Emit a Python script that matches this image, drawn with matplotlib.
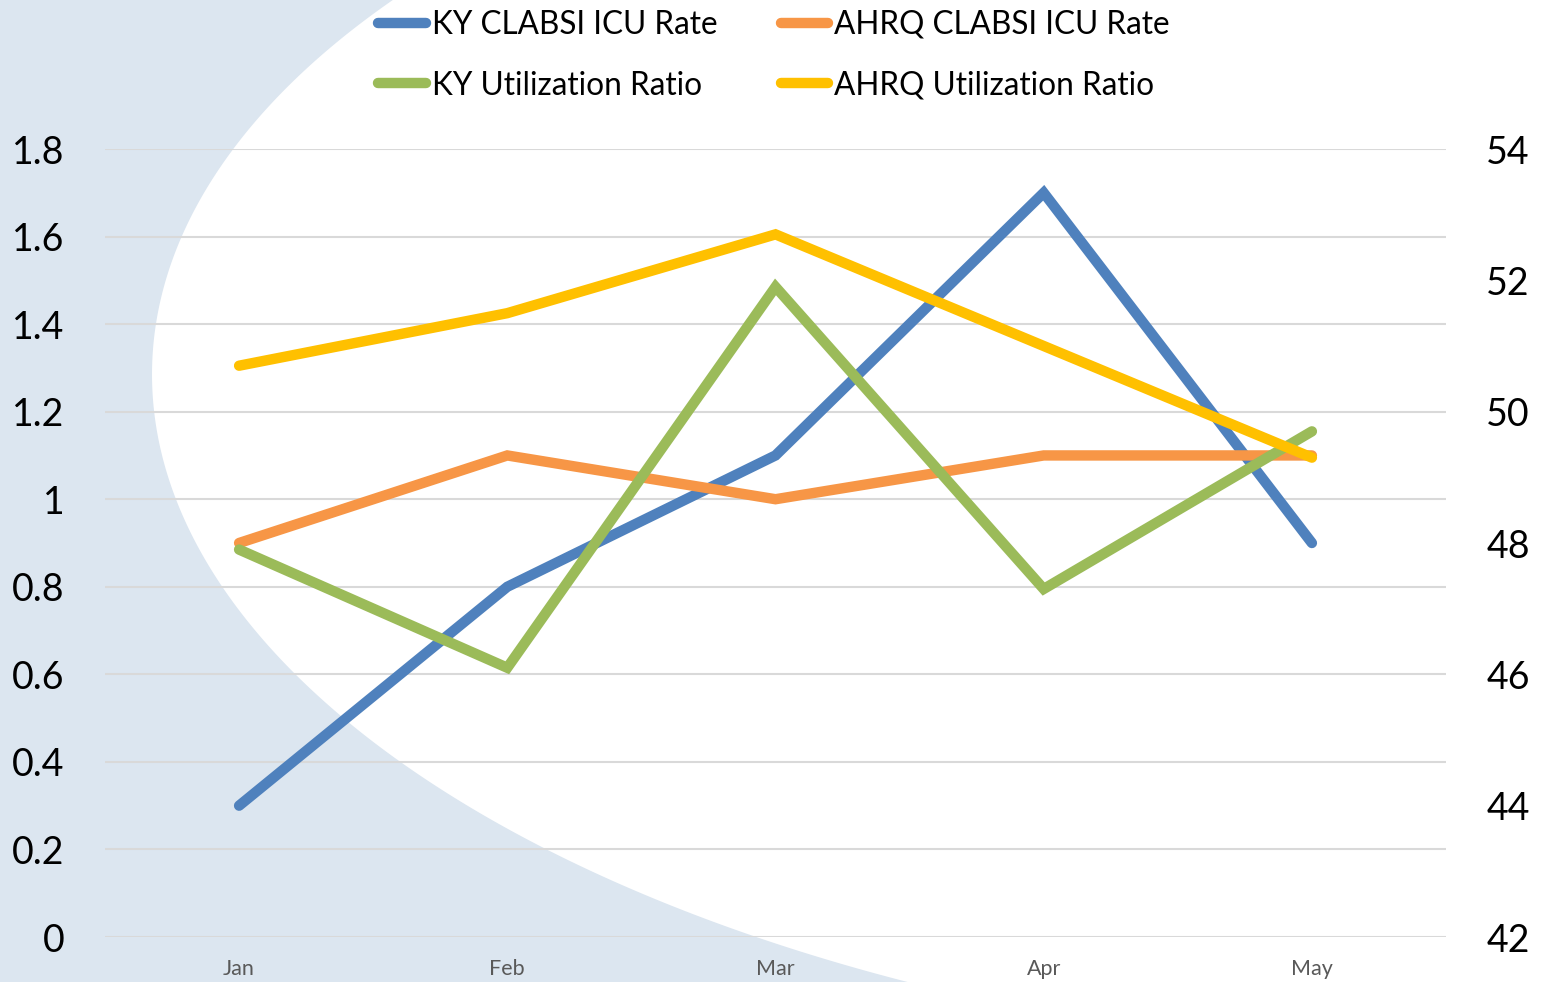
import numpy as np
import matplotlib

matplotlib.use("Agg")
import matplotlib.pyplot as plt
from matplotlib.lines import Line2D

plt.rcParams["font.family"] = ["Lato", "DejaVu Sans"]

# data
months = ["Jan", "Feb", "Mar", "Apr", "May"]
ky_clabsi = [0.3, 0.8, 1.1, 1.7, 0.9]
ahrq_clabsi = [0.9, 1.1, 1.0, 1.1, 1.1]
ky_util = [47.9, 46.1, 51.9, 47.3, 49.7]
ahrq_util = [50.7, 51.5, 52.7, 51.0, 49.3]

left_ticks = [0, 0.2, 0.4, 0.6, 0.8, 1.0, 1.2, 1.4, 1.6, 1.8]
right_ticks = [42, 44, 46, 48, 50, 52, 54]

BLUE = "#4F81BD"
ORANGE = "#F79646"
GREEN = "#9BBB59"
YELLOW = "#FFC000"
BG = "#DCE6F0"
GRID = "#D9D9D9"

W, H = 1546, 982

# slide background: light blue sweep on the left, edge traced in pixels
edge_x = [390, 330, 277, 233, 200, 180, 160, 153, 169, 234, 297, 400, 548, 755, 905]
edge_y = [0, 50, 100, 149, 200, 237, 300, 412, 480, 600, 675, 763, 850, 937, 981]

fig = plt.figure(figsize=(W / 100, H / 100), dpi=100)
bg = fig.add_axes([0, 0, 1, 1], zorder=0)
bg.set_xlim(0, W)
bg.set_ylim(H, 0)
bg.axis("off")

# smooth the traced edge with a least-squares conic
ex = np.array(edge_x) / 1000.0
ey = np.array(edge_y) / 1000.0
M = np.column_stack([ex**2, ex * ey, ey**2, ex, ey, np.ones_like(ex)])
coef = np.linalg.svd(M)[2][-1]


def conic(x, y):
    return (coef[0] * x**2 + coef[1] * x * y + coef[2] * y**2
            + coef[3] * x + coef[4] * y + coef[5])


if conic(0.0, 0.5) < 0:
    coef = -coef
gx, gy = np.meshgrid(np.linspace(-5, W + 5, 400), np.linspace(-5, H + 5, 300))
val = conic(gx / 1000.0, gy / 1000.0)
bg.contourf(gx, gy, val, levels=[0, val.max() + 1], colors=[BG], antialiased=True)

ax = fig.add_axes([105 / W, 45 / H, (1446 - 105) / W, (937 - 149) / H], zorder=1)
ax.patch.set_alpha(0)
ax2 = ax.twinx()

x = np.arange(len(months))
lw = 7.5
kw = dict(lw=lw, solid_capstyle="round", solid_joinstyle="miter")
l1, = ax.plot(x, ky_clabsi, color=BLUE, label="KY CLABSI ICU Rate", **kw)
l2, = ax.plot(x, ahrq_clabsi, color=ORANGE, label="AHRQ CLABSI ICU Rate", **kw)
l3, = ax2.plot(x, ky_util, color=GREEN, label="KY Utilization Ratio", **kw)
l4, = ax2.plot(x, ahrq_util, color=YELLOW, label="AHRQ Utilization Ratio", **kw)

ax.set_xlim(-0.5, len(months) - 0.5)
ax.set_ylim(0, 1.8)
ax2.set_ylim(42, 54)
ax.set_yticks(left_ticks)
ax.set_yticklabels([f"{v:g}" for v in left_ticks])
ax2.set_yticks(right_ticks)
ax.set_xticks(x)
ax.set_xticklabels(months)

for a in (ax, ax2):
    for s in a.spines.values():
        s.set_visible(False)
ax.grid(axis="y", color=GRID, lw=1.5)
ax.set_axisbelow(True)
ax.tick_params(axis="y", length=0, pad=29, labelsize=27, labelcolor="black")
ax2.tick_params(axis="y", length=0, pad=29, labelsize=27, labelcolor="black")
ax.tick_params(axis="x", length=0, pad=16, labelsize=15.5, labelcolor="#595959")

handles = [
    Line2D([], [], color=BLUE, lw=lw, solid_capstyle="round"),
    Line2D([], [], color=GREEN, lw=lw, solid_capstyle="round"),
    Line2D([], [], color=ORANGE, lw=lw, solid_capstyle="round"),
    Line2D([], [], color=YELLOW, lw=lw, solid_capstyle="round"),
]
labels = [l1.get_label(), l3.get_label(), l2.get_label(), l4.get_label()]
fig.legend(handles, labels, ncol=2, loc="upper center",
           bbox_to_anchor=(774 / W, 1.0 + 3 / H), frameon=False,
           fontsize=22.7, handlelength=1.5, handletextpad=0.2,
           columnspacing=2.0, labelspacing=0.98, borderaxespad=0)

fig.savefig("out.png", dpi=100)
